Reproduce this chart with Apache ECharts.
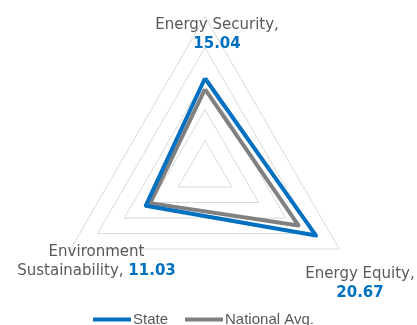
<!DOCTYPE html>
<html><head><meta charset="utf-8">
<script src="https://cdn.jsdelivr.net/npm/echarts@6/dist/echarts.min.js"></script>
<style>html,body{margin:0;padding:0;background:#fff}#c{width:417px;height:325px}</style>
</head><body><div id="c"></div>
<script>
const categories = ['Energy Security', 'Environment\nSustainability', 'Energy Equity'];
const stateValues = [15.04, 11.03, 20.67];
const nationalValues = [13.3, 10.2, 17.4];
const seriesNames = ['State', 'National Avg.'];
const axisMax = 25;

const chart = echarts.init(document.getElementById('c'));
const cx = 205, cy = 171.5;
const labelPos = [
  {x: 217, y: 16},
  {x: 96.5, y: 243},
  {x: 360, y: 265}
];
const graphics = categories.map((c, i) => {
  let txt;
  if (i === 1) {
    const parts = c.split('\n');
    txt = '{n|' + parts[0] + '}\n{n|' + parts[1] + ', }{v|' + stateValues[i].toFixed(2) + '}';
  } else {
    txt = '{n|' + c + ',}\n{v|' + stateValues[i].toFixed(2) + '}';
  }
  return {
    type: 'text', x: labelPos[i].x, y: labelPos[i].y,
    style: {
      text: txt, align: 'center', verticalAlign: 'top',
      fontFamily: 'DejaVu Sans', fontSize: 15, fill: '#595959',
      rich: {
        n: {fontFamily: 'DejaVu Sans', fontSize: 15, fill: '#595959', lineHeight: 19},
        v: {fontFamily: 'DejaVu Sans', fontSize: 15, fontWeight: 'bold', fill: '#0070c0', lineHeight: 19}
      }
    },
    z: 100
  };
});

chart.setOption({
  animation: false,
  legend: {
    data: seriesNames, left: 88, top: 307, itemWidth: 38, itemHeight: 4, itemGap: 17,
    icon: 'rect',
    textStyle: {fontFamily: 'Liberation Sans', fontSize: 15, color: '#595959', padding: [0, 0, 0, -3]}
  },
  radar: {
    center: [cx, cy], radius: 155, shape: 'polygon', splitNumber: 5, startAngle: 90,
    indicator: categories.map(c => ({name: '', min: 0, max: axisMax})),
    axisName: {show: false},
    axisLine: {show: false},
    splitArea: {show: false},
    splitLine: {lineStyle: {color: '#d9d9d9', width: 1}}
  },
  graphic: graphics,
  series: [{
    type: 'radar', symbol: 'none',
    data: [
      {name: seriesNames[1], value: nationalValues, lineStyle: {color: '#808080', width: 4}, itemStyle: {color: '#808080'}},
      {name: seriesNames[0], value: stateValues, lineStyle: {color: '#0070c0', width: 4}, itemStyle: {color: '#0070c0'}}
    ]
  }]
});
</script></body></html>
